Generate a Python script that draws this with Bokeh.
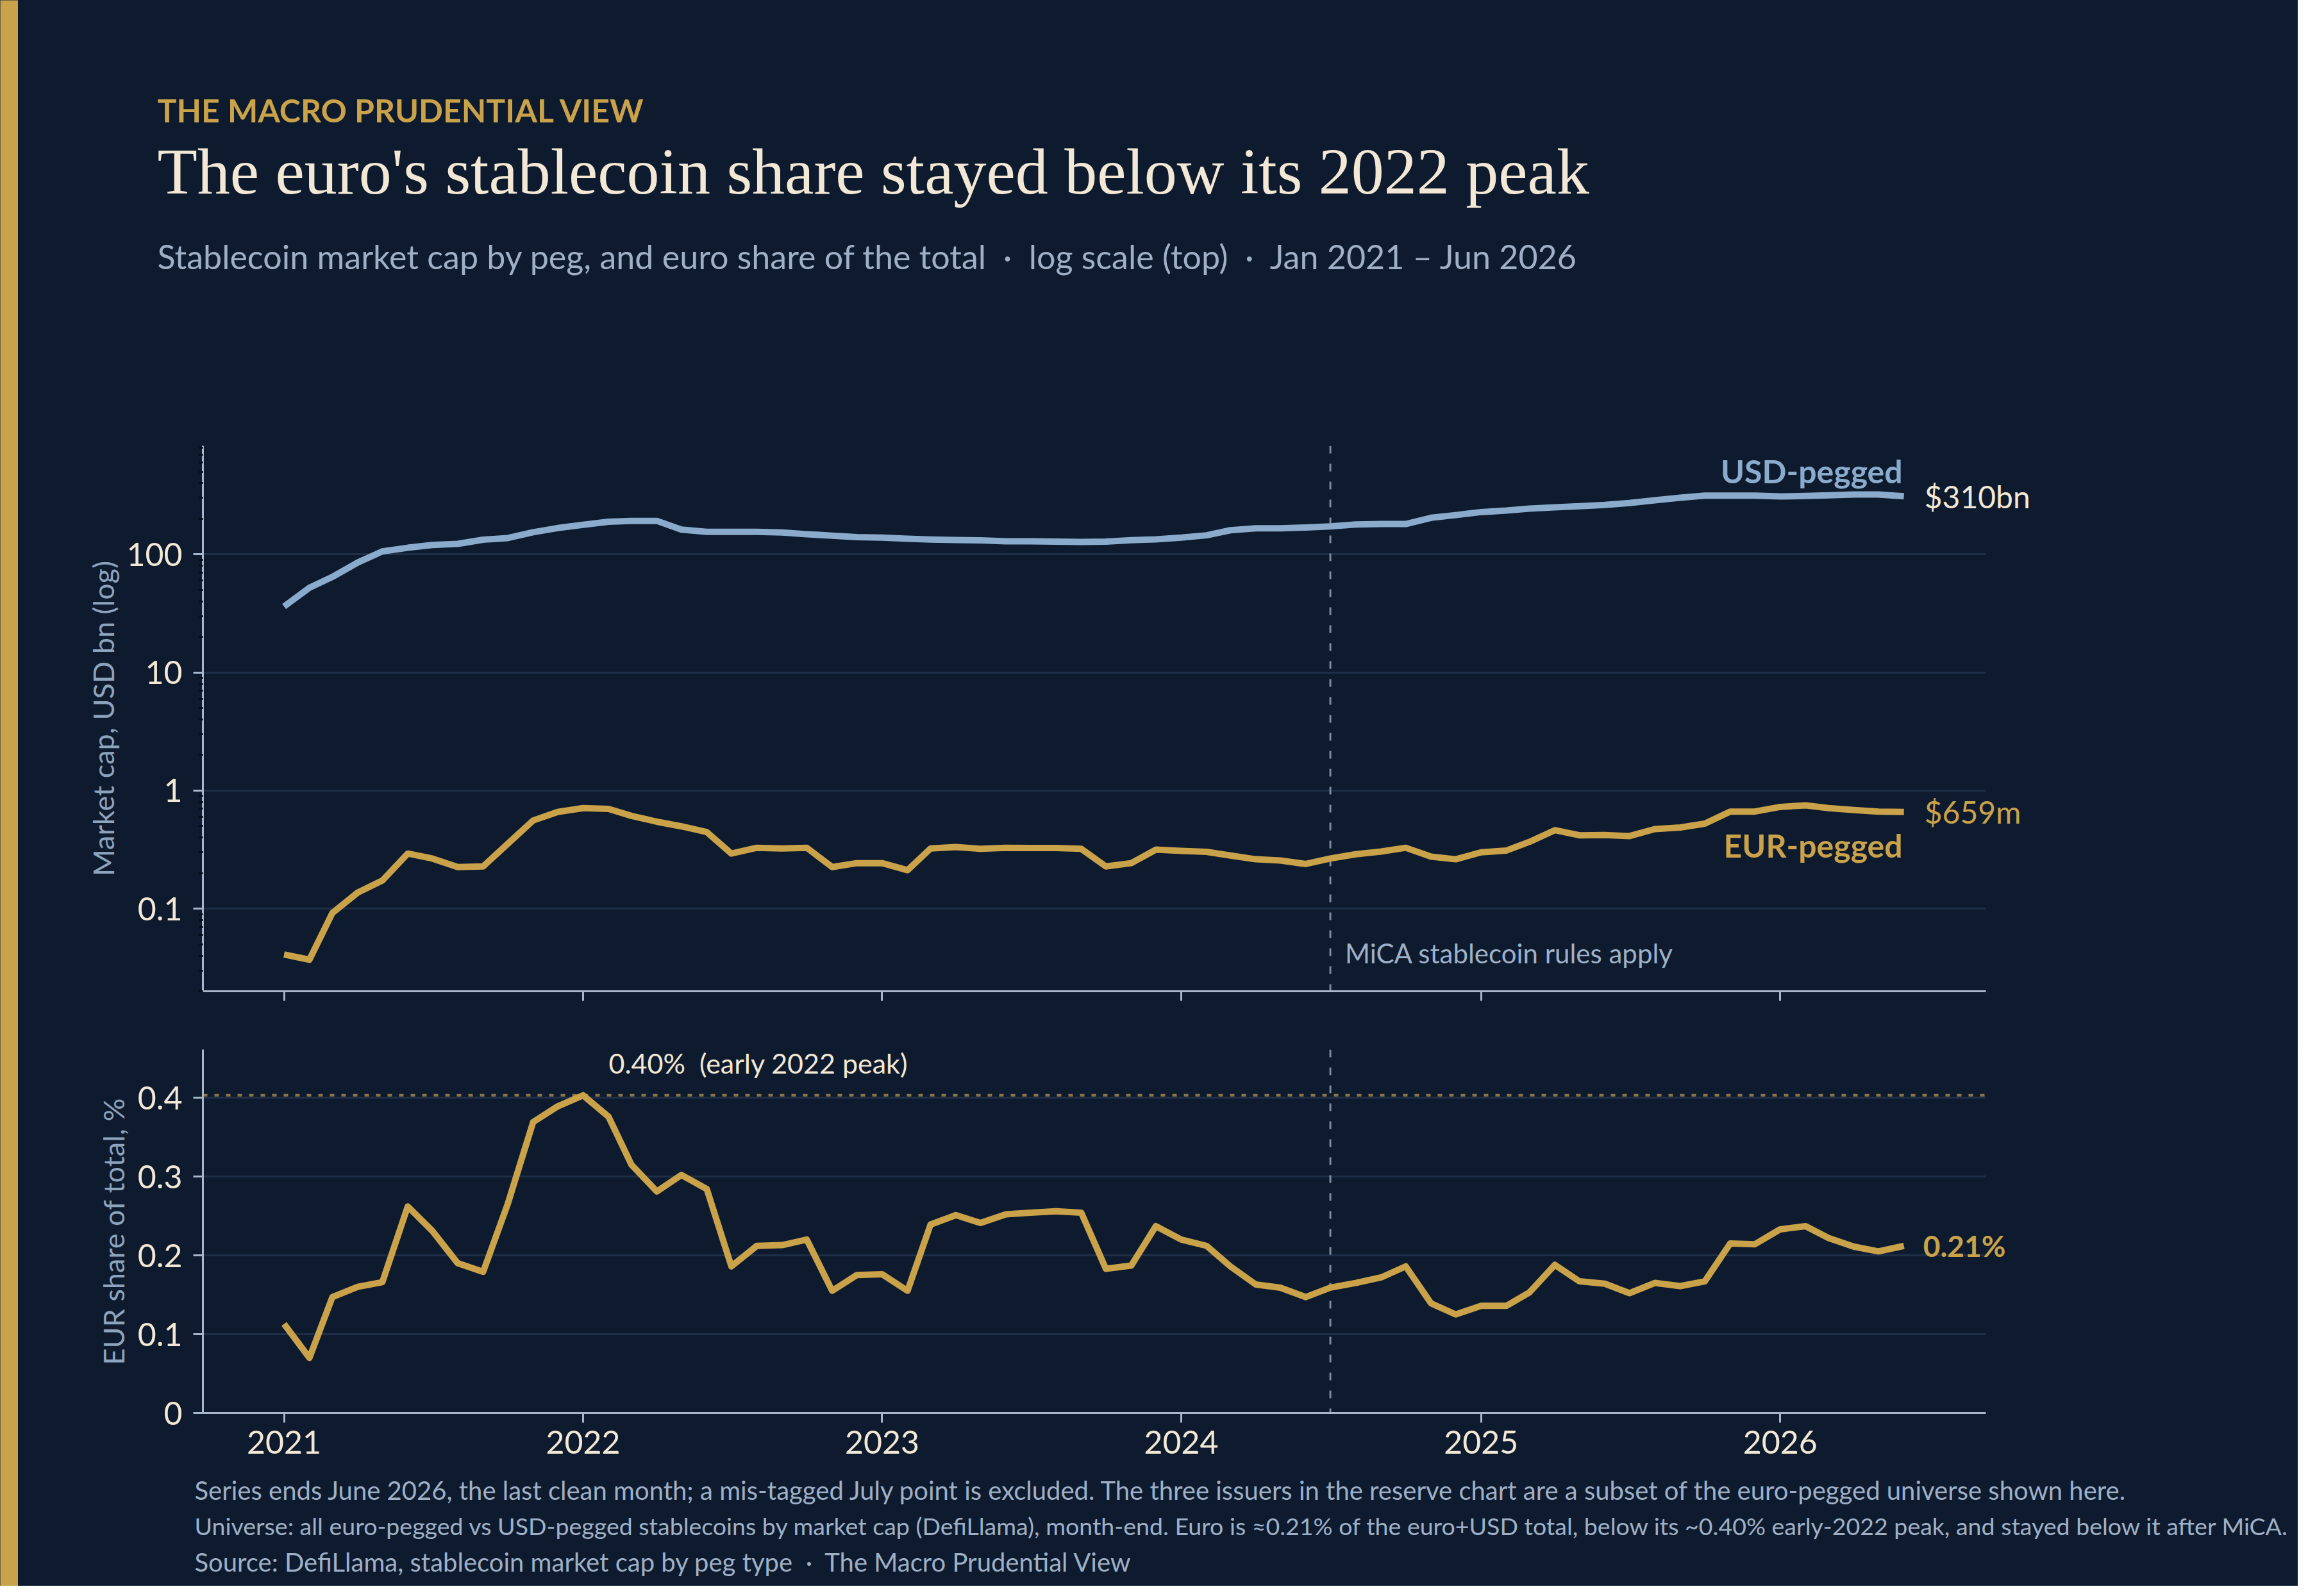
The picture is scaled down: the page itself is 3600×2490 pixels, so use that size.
import pandas as pd
from bokeh.plotting import figure
from bokeh.models import (Range1d, FixedTicker, Span, Label, Title, BoxAnnotation,
                          NumeralTickFormatter, DatetimeTickFormatter, CustomLabelingPolicy)
from bokeh.layouts import row, column
from bokeh.embed import file_html
from bokeh.resources import INLINE

# monthly points, Jan 2021 - Jun 2026 (month start)
months = pd.date_range("2021-01-01", "2026-06-01", freq="MS")

# USD-pegged stablecoin market cap, USD bn
usd_bn = [36.2, 52.1, 64.4, 85.3, 106, 113.7, 120, 122.7, 133, 137.4, 154, 167,
          177.8, 189, 192, 192, 162, 155, 155, 155, 153, 148, 144, 140,
          138.5, 135.4, 133.3, 132.4, 131.4, 129, 129, 128, 127.4, 128, 132, 134,
          138.5, 145, 160, 166, 166, 168.7, 172.5, 179, 180.6, 180.6, 204, 215,
          228, 235, 244, 250, 256, 262, 272, 287, 302, 314, 314, 314,
          309, 312, 316, 321, 321, 310]

# EUR-pegged stablecoin market cap, USD bn
eur_bn = [0.041, 0.037, 0.092, 0.137, 0.173, 0.293, 0.266, 0.225, 0.228, 0.354, 0.558, 0.659,
          0.711, 0.700, 0.611, 0.545, 0.498, 0.445, 0.293, 0.328, 0.323, 0.328, 0.225, 0.243,
          0.243, 0.212, 0.323, 0.333, 0.321, 0.328, 0.326, 0.326, 0.321, 0.228, 0.243, 0.316,
          0.309, 0.303, 0.282, 0.262, 0.256, 0.239, 0.266, 0.289, 0.305, 0.328, 0.276, 0.262,
          0.300, 0.311, 0.368, 0.462, 0.418, 0.421, 0.412, 0.472, 0.487, 0.525, 0.664, 0.664,
          0.727, 0.750, 0.711, 0.685, 0.664, 0.659]

# EUR share of euro+USD total, %
eur_share = [0.113, 0.070, 0.147, 0.160, 0.166, 0.262, 0.231, 0.190, 0.179, 0.265, 0.369, 0.389,
             0.403, 0.376, 0.315, 0.281, 0.302, 0.284, 0.186, 0.212, 0.213, 0.220, 0.155, 0.175,
             0.176, 0.155, 0.239, 0.251, 0.241, 0.252, 0.254, 0.256, 0.254, 0.183, 0.187, 0.237,
             0.220, 0.212, 0.186, 0.163, 0.159, 0.147, 0.159, 0.165, 0.172, 0.186, 0.139, 0.125,
             0.136, 0.136, 0.153, 0.188, 0.167, 0.164, 0.152, 0.165, 0.161, 0.167, 0.215, 0.214,
             0.233, 0.237, 0.222, 0.211, 0.205, 0.212]

years = [2021, 2022, 2023, 2024, 2025, 2026]
log_ticks = [0.1, 1, 10, 100]
share_ticks = [0, 0.1, 0.2, 0.3, 0.4]
mica_date = "2024-07-01"

BG = "#0e1b2e"
GOLD = "#c9a24a"
BLUE = "#8aabcb"
CREAM = "#f2e8d5"
MUTED = "#9fb0c6"
LABEL = "#8ea3bc"
GRID = "#1f2f47"
AXIS = "#a7b6c9"
FONT = "Lato"
DOT = "\u00a0 \u00b7 \u00a0"   # wide-spaced middle dot


def ms(t):
    return pd.Timestamp(t).timestamp() * 1000


# axis spans 2020-09-24 .. 2026-09-09; the frame runs on to the canvas edge
# so the end labels can sit past the axis end
x_start, x_axis_end = ms("2020-09-24"), ms("2026-09-09")
x_end = x_start + (x_axis_end - x_start) * 3268 / 2781
year_ms = [ms(f"{y}-01-01") for y in years]
last = ms(months[-1])
peak = max(eur_share)


def style(p):
    p.background_fill_color = BG
    p.border_fill_color = BG
    p.outline_line_color = None
    p.xgrid.grid_line_color = None
    p.ygrid.grid_line_color = GRID
    p.ygrid.grid_line_width = 3
    for ax in (p.xaxis[0], p.yaxis[0]):
        ax.axis_line_color = AXIS
        ax.axis_line_width = 3
        ax.major_tick_line_color = AXIS
        ax.major_tick_line_width = 3
        ax.major_tick_in = 0
        ax.major_label_text_color = CREAM
        ax.major_label_text_font = FONT
        ax.major_label_text_font_size = "50px"
        ax.axis_label_text_color = LABEL
        ax.axis_label_text_font = FONT
        ax.axis_label_text_font_size = "45px"
        ax.axis_label_text_font_style = "normal"
    p.xaxis.ticker = FixedTicker(ticks=year_ms)
    p.xaxis.formatter = DatetimeTickFormatter(years="%Y", months="%Y", days="%Y")
    p.xaxis.bounds = (x_start, x_axis_end)
    p.xaxis.major_tick_out = 15
    p.xaxis.major_label_standoff = 12
    p.xaxis.minor_tick_line_color = None
    p.yaxis.major_tick_out = 15
    p.yaxis.major_label_standoff = 17


def mask(p):
    # hide grid lines past the end of the x axis
    p.add_layout(BoxAnnotation(left=x_axis_end, fill_color=BG, fill_alpha=1,
                               line_alpha=0, level="underlay"))


def txt(p, x, y, text, size, color, style="normal", align="left",
        baseline="alphabetic", xo=0, yo=0, y_units="data"):
    p.add_layout(Label(x=x, y=y, y_units=y_units, text=text,
                       text_font=FONT, text_font_size=f"{size}px", text_color=color,
                       text_font_style=style, text_align=align, text_baseline=baseline,
                       x_offset=xo, y_offset=yo))


def heading(p, text, size, color, side, standoff, offset, style="normal", font=FONT):
    p.add_layout(Title(text=text, text_font=font, text_font_size=f"{size}px",
                       text_color=color, text_font_style=style, align="left",
                       offset=offset, standoff=standoff), side)


# ---- top panel: market cap, log scale
p1 = figure(width=3556, height=1590, x_axis_type="datetime", y_axis_type="log",
            x_range=Range1d(x_start, x_end), y_range=Range1d(0.02, 830), title=None,
            toolbar_location=None, output_backend="svg",
            min_border_left=288, min_border_right=0, min_border_top=695, min_border_bottom=44)
style(p1)
p1.yaxis.ticker = FixedTicker(ticks=log_ticks,
                              minor_ticks=[m * d for d in [0.01, 0.1, 1, 10, 100] for m in range(2, 10)])
p1.yaxis.formatter = NumeralTickFormatter(format="0[.][0]")
p1.yaxis.minor_tick_line_color = "#060c16"
p1.yaxis.minor_tick_line_width = 3
p1.yaxis.minor_tick_in = 0
p1.yaxis.minor_tick_out = 6
p1.yaxis.axis_label = "Market cap, USD bn (log)"
p1.yaxis.axis_label_standoff = 6
# year ticks only on the upper panel, labels dropped
p1.xaxis.major_label_text_font_size = "0px"
p1.xaxis.major_label_policy = CustomLabelingPolicy(
    code="for (const i of indices) indices.unset(i); return indices")

p1.add_layout(Span(location=ms(mica_date), dimension="height", line_color="#7d8ba0",
                   line_dash="12 16", line_width=3, level="underlay"))
mask(p1)
p1.line(months, usd_bn, line_color=BLUE, line_width=10, line_join="round")
p1.line(months, eur_bn, line_color=GOLD, line_width=10, line_join="round")

txt(p1, last, usd_bn[-1], f"${usd_bn[-1]:.0f}bn", 48, CREAM, baseline="middle", xo=32)
txt(p1, last, usd_bn[-1], "USD-pegged", 50, BLUE, style="bold", align="right", xo=-2, yo=39)
txt(p1, last, eur_bn[-1], f"${eur_bn[-1] * 1000:.0f}m", 48, GOLD, baseline="middle", xo=32)
txt(p1, last, eur_bn[-1], "EUR-pegged", 50, GOLD, style="bold", align="right",
    baseline="middle", xo=-2, yo=-52)
txt(p1, ms(mica_date), 60, "MiCA stablecoin rules apply", 42, MUTED, baseline="middle",
    xo=23, y_units="screen")

# header, stacked upward from the frame
heading(p1, " ", 10, BG, "above", 216, -71)
heading(p1, f"Stablecoin market cap by peg, and euro share of the total{DOT}log scale (top){DOT}Jan 2021 \u2013 Jun 2026",
        52, MUTED, "above", 70, -71)
heading(p1, "The euro's stablecoin share stayed below its 2022 peak", 102, CREAM, "above", 15, -71,
        font="Liberation Serif")
heading(p1, "THE MACRO PRUDENTIAL VIEW", 50, GOLD, "above", 0, -71, style="bold")

# ---- bottom panel: euro share of total
p2 = figure(width=3556, height=884, x_axis_type="datetime",
            x_range=Range1d(x_start, x_end), y_range=Range1d(0, 0.461), title=None,
            toolbar_location=None, output_backend="svg",
            min_border_left=288, min_border_right=0, min_border_top=47, min_border_bottom=270)
style(p2)
p2.yaxis.ticker = FixedTicker(ticks=share_ticks)
p2.yaxis.formatter = NumeralTickFormatter(format="0[.]0")
p2.yaxis.minor_tick_line_color = None
p2.yaxis.axis_label = "EUR share of total, %"
p2.yaxis.axis_label_standoff = 8

p2.add_layout(Span(location=ms(mica_date), dimension="height", line_color="#7d8ba0",
                   line_dash="12 16", line_width=3, level="underlay"))
p2.add_layout(Span(location=peak, dimension="width", line_color="#8a7548",
                   line_dash="7 11", line_width=4, level="underlay"))
mask(p2)
p2.line(months, eur_share, line_color=GOLD, line_width=10, line_join="round")

peak_date = ms(months[eur_share.index(peak)])
txt(p2, peak_date, peak, f"{peak:.2f}%\u00a0 (early 2022 peak)", 43, CREAM, xo=40, yo=50)
txt(p2, last, eur_share[-1], f"{eur_share[-1]:.2f}%", 46, GOLD, style="bold",
    baseline="middle", xo=30)

# footer, stacked below the x axis
notes = [
    "Series ends June 2026, the last clean month; a mis-tagged July point is excluded. The three issuers in the reserve chart are a subset of the euro-pegged universe shown here.",
    "Universe: all euro-pegged vs USD-pegged stablecoins by market cap (DefiLlama), month-end. Euro is \u22480.21% of the euro+USD total, below its ~0.40% early-2022 peak, and stayed below it after MiCA.",
    f"Source: DefiLlama, stablecoin market cap by peg type{DOT}The Macro Prudential View",
]
heading(p2, " ", 10, BG, "below", 8, -13)
for line, size, gap in zip(notes, [40, 37.5, 40], [12, 3, 12]):
    heading(p2, line, size, MUTED, "below", gap, -13)

# gold rule down the left edge
bar = figure(width=28, height=2474, toolbar_location=None, output_backend="svg", title=None,
             x_axis_type=None, y_axis_type=None, min_border=0,
             background_fill_color=GOLD, border_fill_color=GOLD, outline_line_color=None)

layout = row(bar, column(p1, p2, styles={"background-color": BG}),
             styles={"background-color": BG})
open("out.html", "w").write(file_html(layout, INLINE))
